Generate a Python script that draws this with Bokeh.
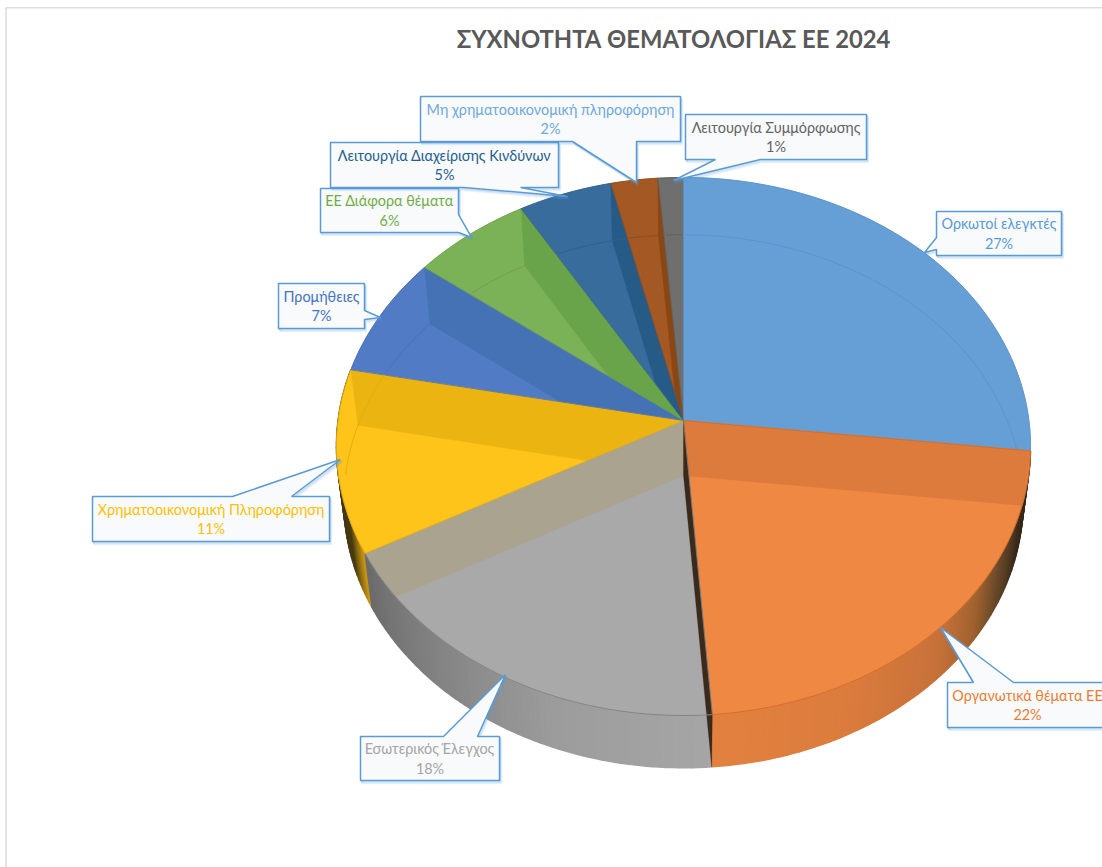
import math
from bokeh.plotting import figure
from bokeh.embed import file_html
from bokeh.resources import INLINE
from bokeh.core.properties import value

title_text = "ΣΥΧΝΟΤΗΤΑ ΘΕΜΑΤΟΛΟΓΙΑΣ ΕΕ 2024"
categories = ["Ορκωτοί ελεγκτές", "Οργανωτικά θέματα ΕΕ", "Εσωτερικός Έλεγχος",
              "Χρηματοοικονομική Πληροφόρηση", "Προμήθειες", "ΕΕ Διάφορα θέματα",
              "Λειτουργία Διαχείρισης Κινδύνων", "Μη χρηματοοικονομική πληροφόρηση",
              "Λειτουργία Συμμόρφωσης"]
values = [26.8, 22.0, 18.3, 11.0, 7.3, 6.1, 4.8, 2.4, 1.3]
pct_labels = ["27%", "22%", "18%", "11%", "7%", "6%", "5%", "2%", "1%"]

# styles
top_colors = ["#669FD6", "#EE8842", "#A9A9A9", "#FFC41A", "#527BC6", "#7CB257", "#386C9C", "#A45925", "#6F6F6F"]
edge_colors = ["#5B93CB", "#CF6A28", "#808080", "#E5AC10", "#4A70B8", "#6FA34C", "#2F6190", "#8F4C1E", "#606060"]
wall_colors = ["#DC7B3C", "#3A2A1C", "#A9A390", "#EBB411", "#4472B4", "#69A34A", "#265A87", "#8A4613", "#666666"]
text_colors = ["#5B9BD5", "#ED7D31", "#A5A5A5", "#FFC000", "#4472C4", "#70AD47", "#255E91", "#6FA8DC", "#636363"]
side_stops = {
    1: [(96, "#2E2316"), (110, "#3A2A1A"), (120, "#6B4A2A"), (127, "#A0622F"), (136, "#C6713A"), (155, "#DC7C3D"), (176, "#E2813F")],
    2: [(175, "#A6A6A6"), (200, "#9C9C9C"), (220, "#858585"), (235, "#747474"), (242, "#6A6A6A")],
    3: [(241, "#E9AE14"), (245, "#A07A12"), (250, "#4A3A10"), (285, "#3A2E10")],
}

# callout layout: box left, right, top, bottom, tip, wedge base (two points)
callouts = [
    (936, 1061, 211, 255, (924, 252), (936, 237), (936, 249), "l"),
    (947, 1107, 682, 727, (940, 627), (973, 682), (1013, 682), "t"),
    (360, 499, 736, 780, (505, 674), (443, 736), (477, 736), "t"),
    (92, 329, 496, 541, (340, 459), (232, 496), (291, 496), "t"),
    (278, 364, 283, 328, (380, 317), (364, 310), (364, 319), "r"),
    (320, 458, 188, 232, (471, 237), (458, 214), (458, 232), "r"),
    (330, 558, 142, 187, (567, 196), (463, 187), (520, 187), "b"),
    (420, 680, 96, 141, (636, 182), (572, 141), (636, 141), "b"),
    (685, 866, 114, 159, (673, 180), (715, 159), (760, 159), "b"),
]

# projection of the disc
CX, CY_T, CY_B = 683.0, 420.0, 475.0
A_T, B_T, A_B, B_B, K = 345.4, 266.5, 338.0, 264.0, 0.0966


def top(t):
    r = math.radians(t)
    w = 1 + K * math.cos(r)
    return (CX + A_T * math.sin(r) / w, CY_T - B_T * math.cos(r) / w)


def bot(t):
    r = math.radians(t)
    w = 1 + K * math.cos(r)
    return (CX + A_B * math.sin(r) / w, CY_B - B_B * math.cos(r) / w)


def hexrgb(c):
    return tuple(int(c[i:i + 2], 16) for i in (1, 3, 5))


def stop_color(stops, t):
    if t <= stops[0][0]:
        return stops[0][1]
    for (a, ca), (b, cb) in zip(stops, stops[1:]):
        if t <= b:
            f = (t - a) / (b - a)
            ra, rb = hexrgb(ca), hexrgb(cb)
            return "#%02X%02X%02X" % tuple(round(x + (y - x) * f) for x, y in zip(ra, rb))
    return stops[-1][1]


def clip_convex(poly, clip):
    area = sum(clip[i][0] * clip[(i + 1) % len(clip)][1] - clip[(i + 1) % len(clip)][0] * clip[i][1] for i in range(len(clip)))
    sign = 1 if area > 0 else -1
    out = poly
    for i in range(len(clip)):
        a, b = clip[i], clip[(i + 1) % len(clip)]
        side = lambda p: sign * ((b[0] - a[0]) * (p[1] - a[1]) - (b[1] - a[1]) * (p[0] - a[0]))
        res = []
        for j in range(len(out)):
            p, q = out[j], out[(j + 1) % len(out)]
            sp, sq = side(p), side(q)
            if sp >= 0:
                res.append(p)
            if sp * sq < 0:
                f = sp / (sp - sq)
                res.append((p[0] + (q[0] - p[0]) * f, p[1] + (q[1] - p[1]) * f))
        out = res
        if not out:
            break
    return out


total = sum(values)
edges = [0.0]
for v in values:
    edges.append(edges[-1] + v / total * 360)

p = figure(width=1102, height=867, x_range=(0, 1102), y_range=(867, 0),
           output_backend="svg", toolbar_location=None, min_border=0,
           outline_line_color=None)
p.axis.visible = False
p.grid.visible = False

# frame of the original picture
p.segment([5.5, 5.5], [7.2, 7.2], [5.5, 1102], [867, 7.2], line_color="#DEDEDE", line_width=1.6)


def poly(pts, color, alpha=1.0, line=None, lw=1.0):
    p.patch([q[0] for q in pts], [q[1] for q in pts], fill_color=color, fill_alpha=alpha,
            line_color=line if line else color, line_width=lw, line_alpha=alpha)


def frange(a, b, step=1.0):
    n = max(2, int(math.ceil(abs(b - a) / step)) + 1)
    return [a + (b - a) * i / (n - 1) for i in range(n)]


# outer side walls, painted behind the top surface
for i in (3, 2):
    ts = frange(edges[i], min(edges[i + 1], 290))
    xs, ys, cs = [], [], []
    for a, b in zip(ts, ts[1:]):
        q = [top(a), top(b), bot(b), bot(a)]
        xs.append([u[0] for u in q]); ys.append([u[1] for u in q])
        cs.append(stop_color(side_stops[i], (a + b) / 2))
    p.patches(xs, ys, fill_color=cs, line_color=cs, line_width=1.5)
ts = frange(edges[1], edges[2])
xs, ys, cs = [], [], []
for a, b in zip(ts, ts[1:]):
    q = [top(a), top(b), bot(b), bot(a)]
    xs.append([u[0] for u in q]); ys.append([u[1] for u in q])
    cs.append(stop_color(side_stops[1], (a + b) / 2))
p.patches(xs, ys, fill_color=cs, line_color=cs, line_width=1.5)
# end wall of the orange slice, seen beside its outer wall
t_end = edges[2]
poly([(CX, CY_T), top(t_end), bot(t_end), (CX, CY_B)], wall_colors[1], lw=0.3)

# top surface
for i in range(len(values)):
    q = [(CX, CY_T)] + [top(t) for t in frange(edges[i], edges[i + 1])]
    poly(q, top_colors[i], line=top_colors[i], lw=0.6)

# inner walls, seen through the top surface
rim = [top(t) for t in frange(0, 360, 2.0)][:-1]
for i in [8, 7, 6, 5, 4, 3, 2, 0, 1]:
    t = edges[i + 1]
    q = clip_convex([(CX, CY_T), top(t), bot(t), (CX, CY_B)], rim)
    if q:
        poly(q, wall_colors[i], line=wall_colors[i], lw=0.3)

# radial edges of slices
for i in range(len(values)):
    a = top(edges[i + 1])
    p.line([CX, a[0]], [CY_T, a[1]], line_color=edge_colors[(i + 1) % len(values)], line_width=0.8)


# bottom rim seen through the top surface
def slice_of(t):
    for i in range(len(values)):
        if edges[i] <= t <= edges[i + 1]:
            return i
    return 0


runs = {}
for t in frange(0.25, 359.75, 0.5):
    x, y = bot(t)
    dx, dy = (x - CX) / A_T, -(y - CY_T) / B_T
    th = math.degrees(math.atan2(dx, dy)) % 360
    ex, ey = top(th)
    inside = math.hypot(x - CX, y - CY_T) < math.hypot(ex - CX, ey - CY_T) - 1
    s = slice_of(th)
    if inside and y < 475 and s not in (1, 2):
        runs.setdefault(s, []).append((x, y))
for i, pts in runs.items():
    p.line([u[0] for u in pts], [u[1] for u in pts], line_color=edge_colors[i], line_width=1.0)

# outlines of the front rim
for i in range(len(values)):
    pts = [top(t) for t in frange(edges[i], edges[i + 1])]
    p.line([u[0] for u in pts], [u[1] for u in pts], line_color=edge_colors[i], line_width=0.9)

# callouts
for k in range(len(values)):
    l, r, t, b, tip, b1, b2, side = callouts[k]
    if side == "t":
        q = [(l, t), b1, tip, b2, (r, t), (r, b), (l, b)]
    elif side == "b":
        q = [(l, t), (r, t), (r, b), b2, tip, b1, (l, b)]
    elif side == "l":
        q = [(l, t), (r, t), (r, b), (l, b), b2, tip, b1]
    else:
        q = [(l, t), (r, t), b1, tip, b2, (r, b), (l, b)]
    for off, al in ((3.0, 0.12), (2.0, 0.18), (1.0, 0.24)):
        p.patch([u[0] + off * 0.6 for u in q], [u[1] + off for u in q], fill_alpha=0,
                line_color="#5B9BD5", line_width=1.6, line_alpha=al)
    poly(q, "#F8FAFC", alpha=1.0, line="#5B9BD5", lw=1.5)
    cx = (l + r) / 2
    cy = (t + b) / 2
    font = value("Lato")
    p.text([cx], [cy - 9.7], text=[categories[k]], text_color=text_colors[k], text_font=font,
           text_font_size="14.4px", text_align="center", text_baseline="middle")
    p.text([cx], [cy + 9.7], text=[pct_labels[k]], text_color=text_colors[k], text_font=font,
           text_font_size="14.4px", text_align="center", text_baseline="middle")

# chart title
p.text([673], [38], text=[title_text], text_color="#595959", text_font=value("Lato"),
       text_font_style="bold", text_font_size="23.8px", text_align="center", text_baseline="middle")

open("out.html", "w").write(file_html(p, INLINE))
